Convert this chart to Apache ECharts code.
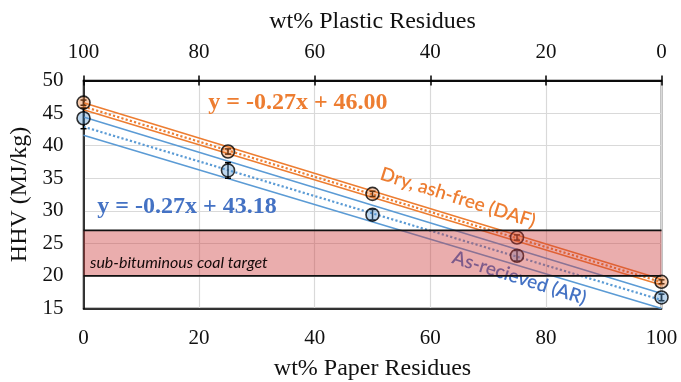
<!DOCTYPE html>
<html><head><meta charset="utf-8">
<script src="https://cdn.jsdelivr.net/npm/echarts@6/dist/echarts.min.js"></script>
<style>html,body{margin:0;padding:0;background:#fff}#c{width:681px;height:382px}</style>
</head><body><div id="c"></div>
<script>
// ---- data ----
const paperPct = [0, 25, 50, 75, 100];
const hhvDAF = [46.6, 39.1, 32.6, 25.9, 19.1];
const errDAF = [0.4, 0.4, 0.4, 0.4, 0.3];
const hhvAR = [44.2, 36.2, 29.4, 23.1, 16.7];
const errAR = [1.6, 1.2, 0.8, 0.8, 0.5];
const trendX = [0, 100];
const trendDAF = [46.0, 19.05];
const trendDAFUpper = [46.6, 19.5];
const trendDAFLower = [45.5, 18.6];
const trendAR = [42.9, 16.3];
const trendARUpper = [44.4, 17.3];
const trendARLower = [41.6, 15.0];
const coalTarget = [20, 27];
const eqDAF = 'y = -0.27x + 46.00';
const eqAR = 'y = -0.27x + 43.18';

const ORANGE = '#ED7D31', BLUE = '#5B9BD5', BLUE_TXT = '#4472C4';
const serif = 'Liberation Serif';
const pair = (xs, ys) => xs.map((x, i) => [x, ys[i]]);

function trend(name, ys, color, type, width) {
  return { type: 'line', name, data: pair(trendX, ys), symbol: 'none', z: 2,
    lineStyle: { color, type, width }, silent: true, animation: false };
}
function errBars(ys, errs) {
  return { type: 'custom', z: 3, animation: false, silent: true,
    data: paperPct.map((x, i) => [x, ys[i] - errs[i], ys[i] + errs[i]]),
    renderItem: (params, api) => {
      const lo = api.coord([api.value(0), api.value(1)]);
      const hi = api.coord([api.value(0), api.value(2)]);
      const st = { stroke: '#000', lineWidth: 1.5 };
      return { type: 'group', children: [
        { type: 'line', shape: { x1: lo[0], y1: lo[1], x2: hi[0], y2: hi[1] }, style: st },
        { type: 'line', shape: { x1: lo[0] - 3, y1: lo[1], x2: lo[0] + 3, y2: lo[1] }, style: st },
        { type: 'line', shape: { x1: hi[0] - 3, y1: hi[1], x2: hi[0] + 3, y2: hi[1] }, style: st }
      ]};
    } };
}
function points(ys, fill) {
  return { type: 'scatter', data: pair(paperPct, ys), symbolSize: 13, z: 4, animation: false,
    itemStyle: { color: fill, borderColor: '#000', borderWidth: 1.6 } };
}

const chart = echarts.init(document.getElementById('c'));
const axisCommon = {
  type: 'value', min: 0, max: 100, interval: 20,
  axisLine: { show: true, lineStyle: { color: '#000', width: 1.5 } },
  splitLine: { show: false },
  axisLabel: { fontFamily: serif, fontSize: 21, color: '#111' },
  nameTextStyle: { fontFamily: serif, fontSize: 24, color: '#111' },
  nameLocation: 'middle'
};
chart.setOption({
  animation: false,
  grid: { left: 83.5, right: 19.5, top: 80.5, bottom: 73.5, containLabel: false, outerBoundsMode: 'none',
    show: true, borderColor: '#000', borderWidth: 1.5 },
  xAxis: [
    Object.assign({}, axisCommon, { position: 'bottom', name: 'wt% Paper Residues', nameGap: 48,
      axisTick: { show: false }, axisLabel: Object.assign({}, axisCommon.axisLabel, { margin: 19 }),
      splitLine: { show: true, lineStyle: { color: '#d9d9d9', width: 1.2 } } }),
    Object.assign({}, axisCommon, { position: 'top', inverse: true, name: 'wt% Plastic Residues', nameGap: 47,
      axisTick: { show: true, length: 5, lineStyle: { color: '#000', width: 1.5 } },
      axisLabel: Object.assign({}, axisCommon.axisLabel, { margin: 18 }) }),
    Object.assign({}, axisCommon, { position: 'top', inverse: true,
      axisTick: { show: true, inside: true, length: 5, lineStyle: { color: '#000', width: 1.5 } },
      axisLabel: { show: false } })
  ],
  yAxis: {
    type: 'value', min: 15, max: 50, interval: 5, name: 'HHV (MJ/kg)', nameLocation: 'middle', nameGap: 46,
    nameTextStyle: { fontFamily: serif, fontSize: 24, color: '#111' },
    axisLine: { show: true, lineStyle: { color: '#000', width: 1.5 } },
    axisTick: { show: false },
    axisLabel: { fontFamily: serif, fontSize: 21, color: '#111', margin: 20 },
    splitLine: { show: true, lineStyle: { color: '#d9d9d9', width: 1.2 } }
  },
  series: [
    trend('DAF upper', trendDAFUpper, ORANGE, 'solid', 1.6),
    trend('DAF lower', trendDAFLower, ORANGE, 'solid', 1.6),
    trend('DAF fit', trendDAF, ORANGE, 'dotted', 2.2),
    trend('AR upper', trendARUpper, BLUE, 'solid', 1.5),
    trend('AR lower', trendARLower, BLUE, 'solid', 1.5),
    trend('AR fit', trendAR, BLUE, 'dotted', 2.2),
    errBars(hhvDAF, errDAF),
    errBars(hhvAR, errAR),
    points(hhvDAF, 'rgba(237,125,49,0.5)'),
    points(hhvAR, 'rgba(91,155,213,0.5)'),
    { type: 'custom', z: 6, silent: true, animation: false,
      data: [coalTarget],
      renderItem: (params, api) => {
        const tl = api.coord([0, api.value(1)]);
        const br = api.coord([100, api.value(0)]);
        return { type: 'group', children: [
          { type: 'rect', shape: { x: tl[0], y: tl[1], width: br[0] - tl[0], height: br[1] - tl[1] },
            style: { fill: 'rgba(204,60,60,0.42)' } },
          { type: 'line', shape: { x1: tl[0], y1: tl[1], x2: br[0], y2: tl[1] }, style: { stroke: '#111', lineWidth: 1.8 } },
          { type: 'line', shape: { x1: tl[0], y1: br[1], x2: br[0], y2: br[1] }, style: { stroke: '#111', lineWidth: 1.8 } }
        ]};
      } }
  ]
});

const px = (x, y) => chart.convertToPixel({ xAxisIndex: 0, yAxisIndex: 0 }, [x, y]);
const rot = -17.5 * Math.PI / 180;
function label(text, at, style, rotation, z) {
  const p = px(at[0], at[1]);
  return { type: 'text', x: p[0], y: p[1], rotation: rotation || 0, z: z || 1,
    style: Object.assign({ text, align: 'center', verticalAlign: 'middle' }, style) };
}
chart.setOption({ graphic: [
  label(eqDAF, [37.1, 46.6], { fill: ORANGE, font: 'bold 24px "Liberation Serif"' }),
  label(eqAR, [17.9, 30.6], { fill: BLUE_TXT, font: 'bold 24px "Liberation Serif"' }),
  label('Dry, ash-free (DAF)', [64.8, 32.0], { fill: ORANGE, font: '600 19px Lato' }, rot),
  label('As-recieved (AR)', [75.4, 19.7], { fill: BLUE_TXT, font: '600 19px Lato' }, rot),
  label('sub-bituminous coal target', [16.5, 22.0], { fill: '#140a0a', font: 'italic 16px Lato' }, 0, 10)
]});
</script></body></html>
